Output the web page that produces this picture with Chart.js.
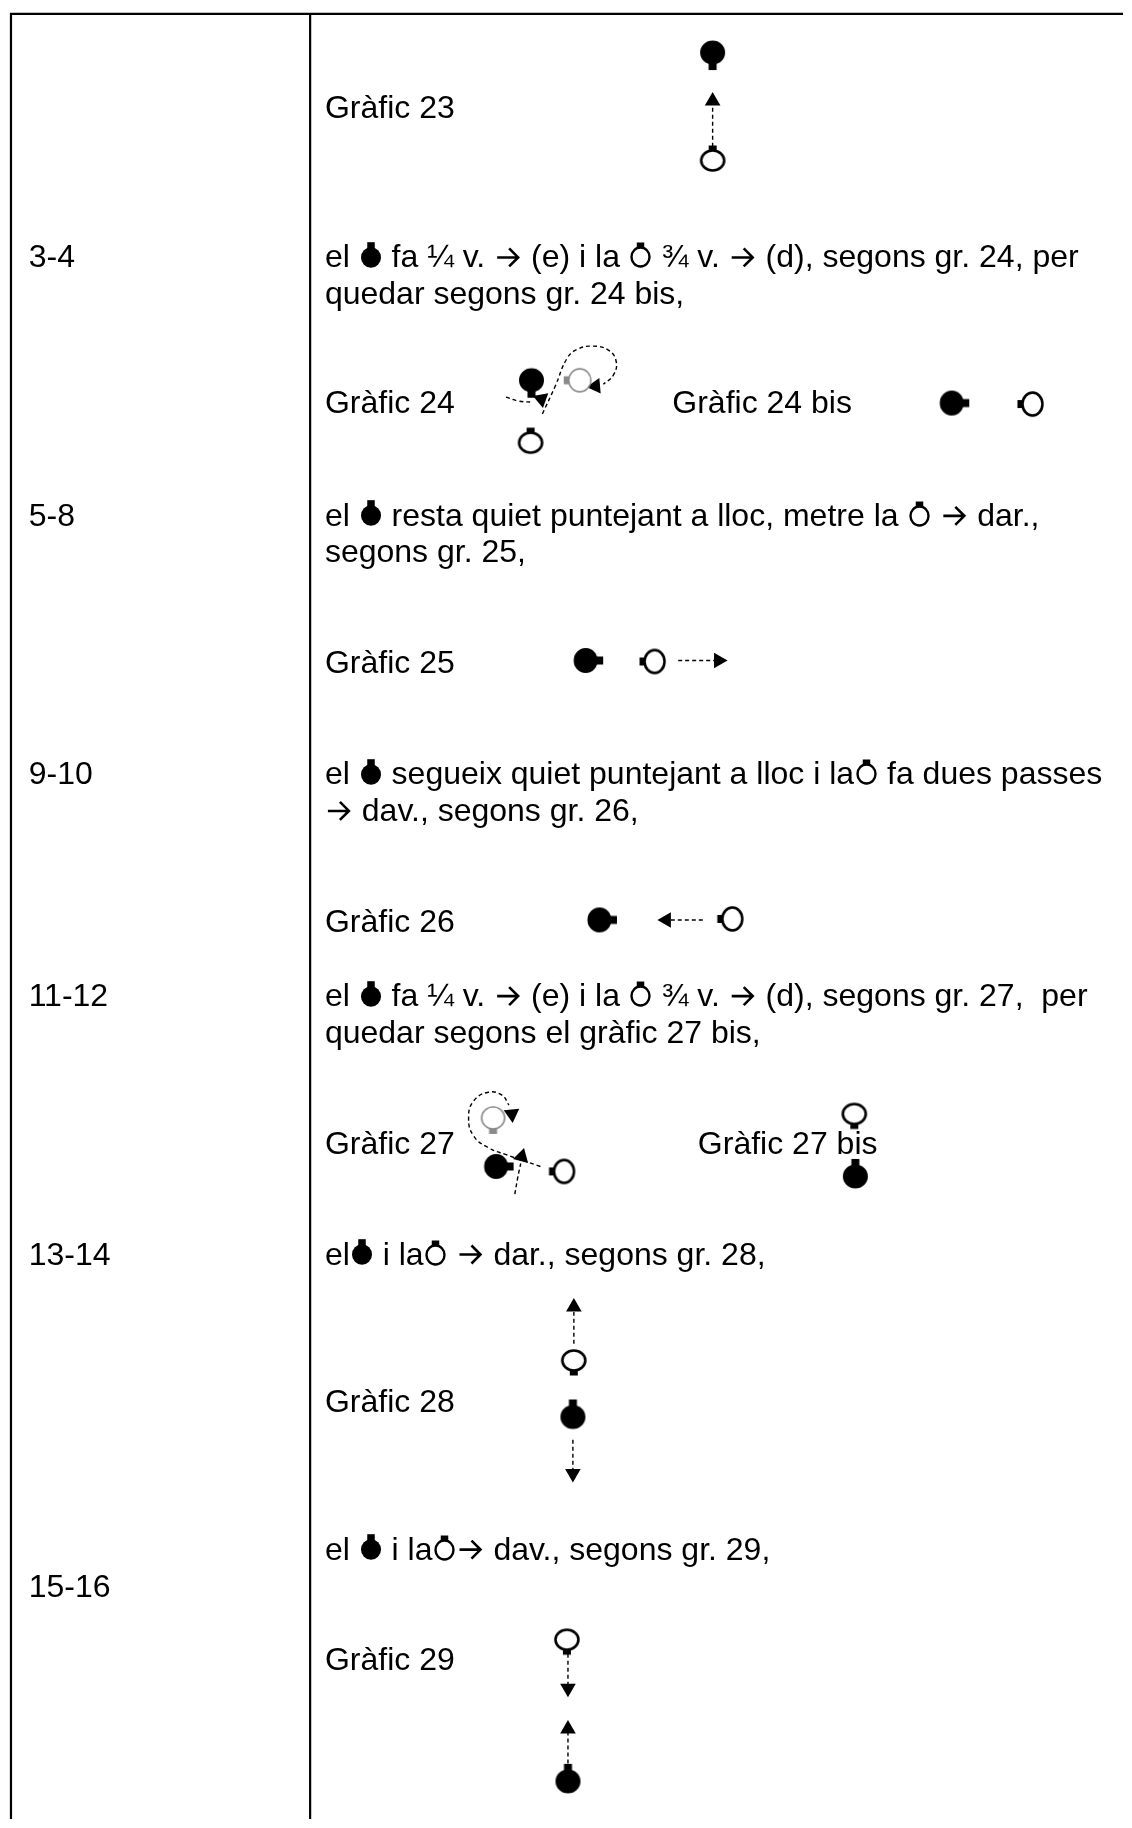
<!DOCTYPE html>
<html><head><meta charset="utf-8">
<script src="https://cdn.jsdelivr.net/npm/chart.js@4.4.0/dist/chart.umd.min.js"></script>
<style>
html,body{margin:0 !important;padding:0 !important;background:#fff;overflow:hidden;width:1132px;height:1828px;}
#wrap{position:absolute;left:0;top:0;width:1132px;height:1828px;background:#fff;}
canvas{display:block;}
</style>
</head><body style="margin:0">
<div id="wrap"><canvas id="c" width="1132" height="1828"></canvas></div>
<script>
// ---------- DATA ----------
// Left column: bar counts and their baselines
const rowLabels = ['3-4', '5-8', '9-10', '11-12', '13-14', '15-16'];
const rowLabelY = [261, 522, 783, 1007, 1268, 1604];

// Right column text ({M} = man symbol, {W} = woman symbol, {A} = arrow)
const descText = [
  'Gràfic 23',
  'el {M} fa ¼ v. {A} (e) i la {W} ¾ v. {A} (d), segons gr. 24, per',
  'quedar segons gr. 24 bis,',
  'Gràfic 24',
  'Gràfic 24 bis',
  'el {M} resta quiet puntejant a lloc, metre la {W} {A} dar.,',
  'segons gr. 25,',
  'Gràfic 25',
  'el {M} segueix quiet puntejant a lloc i la{W} fa dues passes',
  '{A} dav., segons gr. 26,',
  'Gràfic 26',
  'el {M} fa ¼ v. {A} (e) i la {W} ¾ v. {A} (d), segons gr. 27,  per',
  'quedar segons el gràfic 27 bis,',
  'Gràfic 27',
  'Gràfic 27 bis',
  'el{M} i la{W} {A} dar., segons gr. 28,',
  'Gràfic 28',
  'el {M} i la{W}{A} dav., segons gr. 29,',
  'Gràfic 29'
];
const descX = [321, 321, 321, 321, 674, 321, 321, 321, 321, 321, 321, 321, 321, 321, 700, 321, 321, 321, 321];
const descY = [110, 261, 298, 408, 408, 522, 559, 671, 783, 820, 932, 1007, 1044, 1156, 1156, 1268, 1417, 1566, 1678];

// Dancers: position and facing (degrees, 0 = up, 90 = right, 180 = down, 270 = left)
const manX = [715, 531, 958, 586, 600, 495, 860, 573, 568];
const manY = [44, 375, 398, 658, 920, 1169, 1179, 1422, 1790];
const manFacing = [180, 180, 90, 90, 90, 90, 0, 0, 0];

const womanX = [715, 530, 1040, 656, 735, 564, 859, 574, 567];
const womanY = [153, 438, 399, 659, 919, 1174, 1116, 1365, 1647];
const womanFacing = [0, 0, 270, 270, 270, 270, 180, 180, 180];

// Previous (grey) positions of the woman in gr. 24 and gr. 27
const ghostX = [580, 492];
const ghostY = [375, 1120];
const ghostFacing = [270, 180];

// Dashed movement paths
const pathGr23 = [[715, 139], [715, 97]];
const pathGr24Man = [[505, 392], [518, 396], [532, 397]];
const pathGr24Woman = [[542, 409], [555, 381], [567, 353], [577, 344], [593, 340.5], [609, 344.5], [617, 356], [614, 370], [604, 379]];
const pathGr25 = [[680, 658], [718, 658]];
const pathGr26 = [[705, 920], [672, 920]];
const pathGr27Woman = [[540, 1169], [505, 1157], [487, 1150], [472, 1138], [467, 1120], [472, 1103], [487, 1094], [501, 1097], [508, 1107]];
const pathGr27Man = [[514, 1197], [517, 1180], [520, 1166]];
const pathGr28Up = [[574, 1348], [574, 1316]];
const pathGr28Down = [[573, 1445], [573, 1476]];
const pathGr29Down = [[568, 1661], [568, 1692]];
const pathGr29Up = [[568, 1772], [568, 1741]];

// Arrowheads: position and direction
const arrowX = [715, 541, 596, 721, 668, 511, 521, 574, 573, 568, 568];
const arrowY = [93, 394, 381, 658, 920, 1116, 1159, 1311, 1479, 1696, 1737];
const arrowDir = [0, 170, 265, 90, 270, 175, 15, 0, 180, 180, 0];

// ---------- SYMBOLS ----------
function dancerCanvas(fill, stroke, lw, rx, ry, tabW, tabL, tabColor) {
  const w = Math.ceil(2 * rx + lw + 4);
  const h = Math.ceil(2 * (ry + tabL) + lw + 4);
  const c = document.createElement('canvas');
  c.width = w; c.height = h;
  const g = c.getContext('2d');
  const cx = w / 2, cy = h / 2;
  g.fillStyle = tabColor;
  g.fillRect(cx - tabW / 2, cy - ry - tabL, tabW, tabL + 4);
  g.beginPath();
  g.ellipse(cx, cy, rx, ry, 0, 0, Math.PI * 2);
  g.fillStyle = fill; g.fill();
  if (stroke) { g.lineWidth = lw; g.strokeStyle = stroke; g.stroke(); }
  return c;
}
const manImg = dancerCanvas('#000', null, 0, 12.5, 12, 8, 5.5, '#000');
const womanImg = dancerCanvas('#fff', '#000', 2.6, 11.5, 10, 8, 5, '#000');
const ghostImg = dancerCanvas('#fff', '#8a8a8a', 1.6, 11.5, 11, 8, 5, '#8a8a8a');
const inlineMan = dancerCanvas('#000', null, 0, 10, 10.3, 7.5, 5, '#000');
const inlineWoman = dancerCanvas('#fff', '#000', 2.4, 9, 9.5, 7.5, 5, '#000');

const FONT = '32px "Liberation Sans", Arial, sans-serif';

function pts(xs, ys) { return xs.map((x, i) => ({ x: x, y: ys[i] })); }
function pathDs(p, curved) {
  return {
    data: p.map(q => ({ x: q[0], y: q[1] })),
    showLine: true, borderColor: '#000', borderWidth: 1.4, borderDash: [4, 3],
    pointRadius: 0, tension: curved ? 0.45 : 0, fill: false, order: 5
  };
}

function drawArrowGlyph(ctx, x, y) {
  // text arrow: shaft with open chevron head, around x-height
  const my = y - 10;
  ctx.save();
  ctx.strokeStyle = '#000'; ctx.lineWidth = 2.6; ctx.lineCap = 'butt'; ctx.lineJoin = 'miter';
  ctx.beginPath();
  ctx.moveTo(x + 3, my); ctx.lineTo(x + 24, my);
  ctx.moveTo(x + 15, my - 9); ctx.lineTo(x + 24, my); ctx.lineTo(x + 15, my + 9);
  ctx.stroke();
  ctx.restore();
}

function drawRich(ctx, str, x, y) {
  ctx.fillStyle = '#000'; ctx.textBaseline = 'alphabetic'; ctx.textAlign = 'left';
  ctx.font = FONT;
  const parts = str.split(/(\{M\}|\{W\}|\{A\})/);
  let cx = x;
  for (const p of parts) {
    if (p === '{M}' || p === '{W}') {
      const img = p === '{M}' ? inlineMan : inlineWoman;
      const boxW = 24;
      ctx.drawImage(img, Math.round(cx + boxW / 2 - img.width / 2), Math.round(y - 10 - img.height / 2));
      cx += boxW;
    } else if (p === '{A}') {
      drawArrowGlyph(ctx, cx, y);
      cx += 28;
    } else if (p) {
      ctx.fillText(p, cx, y);
      cx += ctx.measureText(p).width;
    }
  }
}

const tablePlugin = {
  id: 'table',
  beforeDatasetsDraw(chart) {
    const ctx = chart.ctx, xs = chart.scales.x, ys = chart.scales.y;
    const X = v => xs.getPixelForValue(v), Y = v => ys.getPixelForValue(v);
    ctx.save();
    ctx.strokeStyle = '#000'; ctx.lineWidth = 2.2;
    ctx.beginPath();
    ctx.moveTo(X(1), Y(5)); ctx.lineTo(X(1132), Y(5));
    ctx.moveTo(X(2), Y(4)); ctx.lineTo(X(2), Y(1828));
    ctx.moveTo(X(306), Y(4)); ctx.lineTo(X(306), Y(1828));
    ctx.stroke();
    ctx.restore();
  },
  afterDatasetsDraw(chart) {
    const ctx = chart.ctx, xs = chart.scales.x, ys = chart.scales.y;
    const X = v => xs.getPixelForValue(v), Y = v => ys.getPixelForValue(v);
    ctx.save();
    rowLabels.forEach((t, i) => drawRich(ctx, t, X(20), Y(rowLabelY[i])));
    descText.forEach((t, i) => drawRich(ctx, t, X(descX[i]), Y(descY[i])));
    ctx.restore();
  }
};

const datasets = [
  { data: pts(manX, manY), pointStyle: manImg, pointRotation: manFacing, pointRadius: 6, order: 1 },
  { data: pts(womanX, womanY), pointStyle: womanImg, pointRotation: womanFacing, pointRadius: 6, order: 1 },
  { data: pts(ghostX, ghostY), pointStyle: ghostImg, pointRotation: ghostFacing, pointRadius: 6, order: 2 },
  { data: pts(arrowX, arrowY), pointStyle: 'triangle', pointRotation: arrowDir, pointRadius: 9,
    backgroundColor: '#000', borderColor: '#000', borderWidth: 0, order: 3 },
  pathDs(pathGr23, false), pathDs(pathGr24Man, true), pathDs(pathGr24Woman, true),
  pathDs(pathGr25, false), pathDs(pathGr26, false), pathDs(pathGr27Woman, true),
  pathDs(pathGr27Man, true), pathDs(pathGr28Up, false), pathDs(pathGr28Down, false),
  pathDs(pathGr29Down, false), pathDs(pathGr29Up, false)
];

new Chart(document.getElementById('c'), {
  type: 'scatter',
  data: { datasets: datasets },
  options: {
    responsive: false, animation: false, events: [],
    layout: { padding: 0 },
    plugins: { legend: { display: false }, tooltip: { enabled: false } },
    scales: {
      x: { type: 'linear', min: 0, max: 1132, display: false },
      y: { type: 'linear', min: 0, max: 1828, reverse: true, display: false }
    }
  },
  plugins: [tablePlugin]
});
</script>
</body></html>
